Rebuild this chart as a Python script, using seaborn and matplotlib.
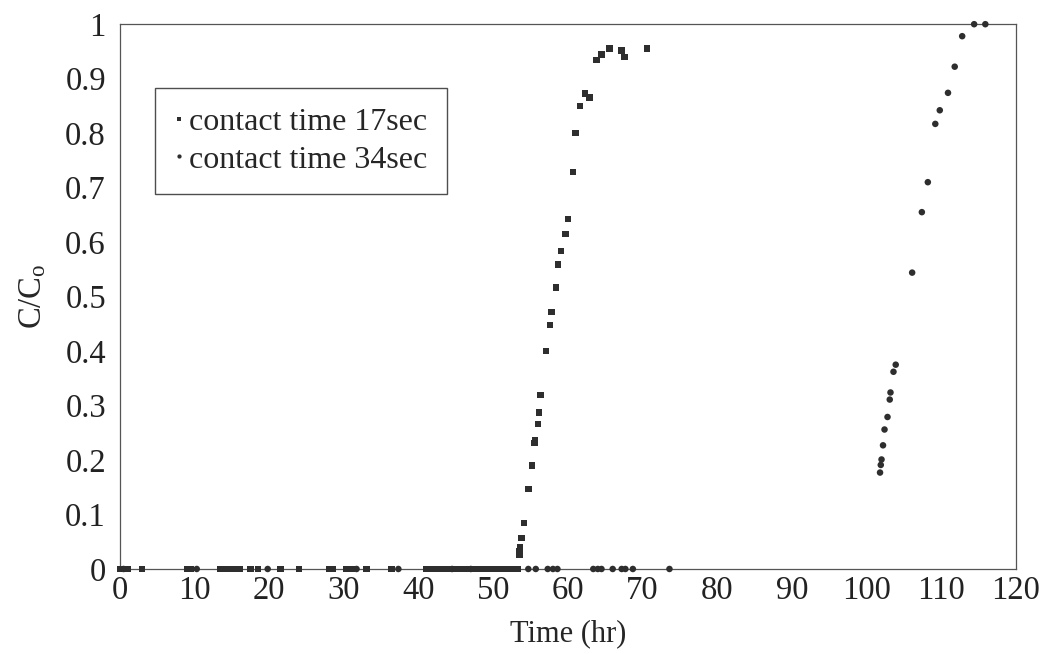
import numpy as np
import pandas as pd
import matplotlib
matplotlib.use("Agg")
import matplotlib.pyplot as plt
import seaborn as sns

# ---- data ----
t17_zero = [0, 1, 3, 9, 9.5, 13.5, 14, 14.5, 15, 15.5, 16, 17.5, 18.5, 21.5, 24, 28, 28.5,
            30.3, 31, 33, 36.4, 41, 41.5, 42, 42.5, 43, 43.5, 44, 45, 45.5, 46, 46.5, 47.5,
            48, 48.5, 49, 49.5, 50, 50.5, 51, 51.5, 52, 52.5, 53, 53.3]
t17_rise = [53.5, 53.5, 53.6, 53.8, 54.1, 54.7, 55.2, 55.5, 55.6, 56.0, 56.1, 56.3, 57.1,
            57.6, 57.8, 58.4, 58.7, 59.1, 59.7, 60.0, 60.7, 61.0, 61.6, 62.3, 62.9, 63.8,
            64.5, 65.6, 67.2, 67.6, 70.6]
c17_rise = [0.026, 0.032, 0.039, 0.057, 0.084, 0.147, 0.19, 0.231, 0.237, 0.266, 0.287,
            0.319, 0.40, 0.448, 0.472, 0.517, 0.559, 0.584, 0.615, 0.642, 0.729, 0.80,
            0.85, 0.873, 0.865, 0.934, 0.944, 0.955, 0.952, 0.94, 0.955]

t34_zero = [0.5, 10.3, 19.8, 31.7, 37.3, 44.5, 47, 54.7, 55.7, 57.3, 58, 58.6, 63.4, 64,
            64.5, 66, 67.2, 67.7, 68.7, 73.6]
t34_rise = [101.8, 101.9, 102.0, 102.2, 102.4, 102.8, 103.1, 103.2, 103.6, 103.9, 106.1,
            107.4, 108.2, 109.2, 109.8, 110.9, 111.8, 112.8, 114.4, 115.9]
c34_rise = [0.177, 0.191, 0.201, 0.227, 0.256, 0.279, 0.311, 0.324, 0.362, 0.375, 0.544,
            0.655, 0.71, 0.817, 0.842, 0.874, 0.922, 0.978, 1.0, 1.0]

labels = ["contact time 17sec", "contact time 34sec"]
x_ticks = list(range(0, 121, 10))
y_ticks = [0, 0.1, 0.2, 0.3, 0.4, 0.5, 0.6, 0.7, 0.8, 0.9, 1]
y_ticklabels = ["0", "0.1", "0.2", "0.3", "0.4", "0.5", "0.6", "0.7", "0.8", "0.9", "1"]

df = pd.concat([
    pd.DataFrame({"t": t17_zero + t17_rise, "c": [0.0] * len(t17_zero) + c17_rise, "s": labels[0]}),
    pd.DataFrame({"t": t34_zero + t34_rise, "c": [0.0] * len(t34_zero) + c34_rise, "s": labels[1]}),
], ignore_index=True)

sns.set_style("white")
plt.rcParams["font.family"] = ["Liberation Serif", "DejaVu Serif"]
plt.rcParams["mathtext.fontset"] = "custom"
plt.rcParams["mathtext.rm"] = "Liberation Serif"
plt.rcParams["mathtext.it"] = "Liberation Serif"

fig = plt.figure(figsize=(10.42, 6.54), dpi=100)
ax = fig.add_axes([0.115, 0.13, 0.86, 0.833])

col = "#2e2e2e"
sns.scatterplot(data=df, x="t", y="c", hue="s", style="s",
                markers={labels[0]: "s", labels[1]: "o"},
                palette={labels[0]: col, labels[1]: col},
                s=22, linewidth=0, ax=ax, clip_on=False, zorder=3)

ax.set_xlim(0, 120)
ax.set_ylim(0, 1)
ax.set_xticks(x_ticks)
ax.set_yticks(y_ticks)
ax.set_yticklabels(y_ticklabels)
ax.tick_params(axis="both", labelsize=23.5, direction="out", length=3, width=0.8,
               colors="#222222")
ax.tick_params(axis="y", pad=7)
ax.tick_params(axis="x", pad=2)
for sp in ax.spines.values():
    sp.set_color("#555555")
    sp.set_linewidth(0.9)
    sp.set_visible(True)

ax.set_xlabel("Time (hr)", fontsize=22, labelpad=9)
ax.set_ylabel("C/C$_\\mathrm{o}$", fontsize=23.5, labelpad=12)

leg = ax.legend(loc="upper left", bbox_to_anchor=(0.039, 0.8826), fontsize=23,
                frameon=True, fancybox=False, borderpad=0.62, borderaxespad=0,
                handletextpad=0.2, handlelength=0.25, labelspacing=0.25, markerscale=0.65)
leg.get_frame().set_edgecolor("#222222")
leg.get_frame().set_linewidth(1.0)

fig.savefig("out.png", dpi=100)
